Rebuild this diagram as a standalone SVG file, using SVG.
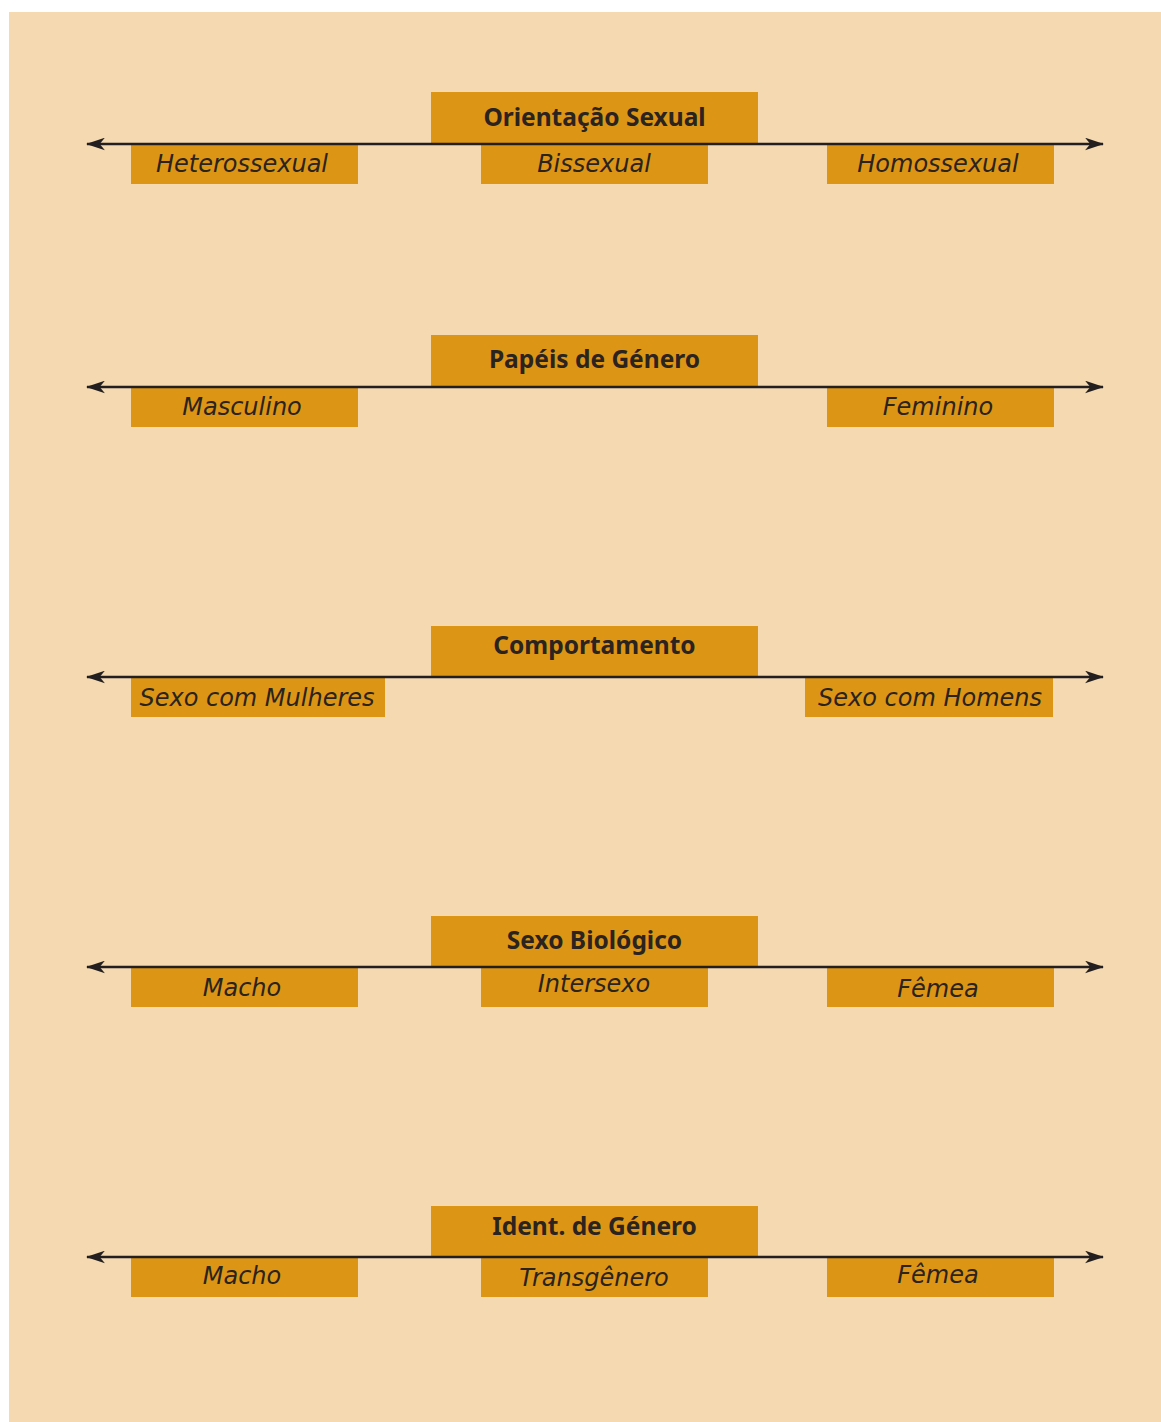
<svg xmlns="http://www.w3.org/2000/svg" width="1161" height="1422" viewBox="0 0 1161 1422">
<defs>
<marker id="ah" viewBox="0 0 18 12" refX="17" refY="6" markerWidth="19" markerHeight="13" markerUnits="userSpaceOnUse" orient="auto-start-reverse">
<path d="M0,0 L18,6 L0,12 L5,6 Z" fill="#231f20"/>
</marker>
<style>
.bg{fill:#f5d9b1}
.box{fill:#dd9515}
.t{font-family:"Noto Sans","Open Sans","DejaVu Sans",sans-serif;font-weight:bold;font-size:24.5px;fill:#2a2320;text-anchor:middle}
.s{font-family:"DejaVu Sans","Noto Sans",sans-serif;font-style:italic;font-size:24px;fill:#2a2320;text-anchor:middle}
.ln{stroke:#231f20;stroke-width:2.5;fill:none;marker-start:url(#ah);marker-end:url(#ah)}
</style>
</defs>
<rect class="bg" x="9" y="12" width="1152" height="1410"/>

<g id="n1">
<rect class="box" x="431" y="92" width="327" height="51"/>
<text class="t" x="594.5" y="126">Orientação Sexual</text>
</g>
<g id="n1a"><rect class="box" x="131" y="145" width="227" height="39"/><text class="s" x="242" y="172">Heterossexual</text></g>
<g id="n1b"><rect class="box" x="481" y="145" width="227" height="39"/><text class="s" x="594" y="172">Bissexual</text></g>
<g id="n1c"><rect class="box" x="827" y="145" width="227" height="39"/><text class="s" x="938" y="172">Homossexual</text></g>

<g id="n2">
<rect class="box" x="431" y="335" width="327" height="51"/>
<text class="t" x="594.5" y="368">Papéis de Género</text>
</g>
<g id="n2a"><rect class="box" x="131" y="388" width="227" height="39"/><text class="s" x="242" y="415">Masculino</text></g>
<g id="n2c"><rect class="box" x="827" y="388" width="227" height="39"/><text class="s" x="938" y="415">Feminino</text></g>

<g id="n3">
<rect class="box" x="431" y="626" width="327" height="50"/>
<text class="t" x="594.5" y="654">Comportamento</text>
</g>
<g id="n3a"><rect class="box" x="131" y="678" width="254" height="39"/><text class="s" x="257" y="706">Sexo com Mulheres</text></g>
<g id="n3c"><rect class="box" x="805" y="678" width="248" height="39"/><text class="s" x="930" y="706">Sexo com Homens</text></g>

<g id="n4">
<rect class="box" x="431" y="916" width="327" height="50"/>
<text class="t" x="594.5" y="949">Sexo Biológico</text>
</g>
<g id="n4a"><rect class="box" x="131" y="968" width="227" height="39"/><text class="s" x="242" y="996">Macho</text></g>
<g id="n4b"><rect class="box" x="481" y="968" width="227" height="39"/><text class="s" x="594" y="992">Intersexo</text></g>
<g id="n4c"><rect class="box" x="827" y="968" width="227" height="39"/><text class="s" x="938" y="997">Fêmea</text></g>

<g id="n5">
<rect class="box" x="431" y="1206" width="327" height="50"/>
<text class="t" x="594.5" y="1235">Ident. de Género</text>
</g>
<g id="n5a"><rect class="box" x="131" y="1258" width="227" height="39"/><text class="s" x="242" y="1284">Macho</text></g>
<g id="n5b"><rect class="box" x="481" y="1258" width="227" height="39"/><text class="s" x="594" y="1286">Transgênero</text></g>
<g id="n5c"><rect class="box" x="827" y="1258" width="227" height="39"/><text class="s" x="938" y="1283">Fêmea</text></g>

<g id="connectors">
<line class="ln" x1="87" y1="144" x2="1103" y2="144"/>
<line class="ln" x1="87" y1="387" x2="1103" y2="387"/>
<line class="ln" x1="87" y1="677" x2="1103" y2="677"/>
<line class="ln" x1="87" y1="967" x2="1103" y2="967"/>
<line class="ln" x1="87" y1="1257" x2="1103" y2="1257"/>
</g>
</svg>
